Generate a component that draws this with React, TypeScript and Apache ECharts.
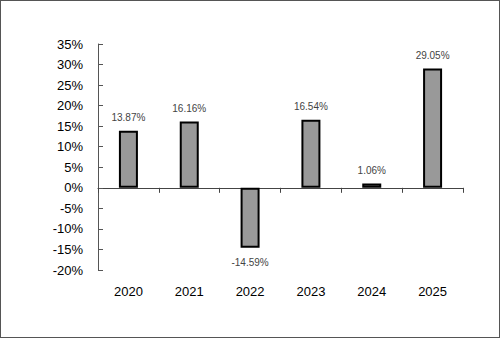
import React, { useEffect, useRef } from "react";
import * as echarts from "echarts";

const categories = ["2020", "2021", "2022", "2023", "2024", "2025"];
const returns = [13.87, 16.16, -14.59, 16.54, 1.06, 29.05];
const yMin = -20;
const yMax = 35;
const yStep = 5;

export default function App() {
  const ref = useRef<HTMLDivElement>(null);
  useEffect(() => {
    if (!ref.current) return;
    const chart = echarts.init(ref.current, undefined, { renderer: "svg" });
    const font = "'Liberation Sans', Arial, sans-serif";
    chart.setOption({
      animation: false,
      grid: { left: 97, right: 36, top: 43, bottom: 67 },
      xAxis: [
        {
          type: "category",
          data: categories,
          position: "bottom",
          axisLine: { show: false, onZero: false },
          axisTick: { show: false },
          axisLabel: { color: "#000", fontSize: 13, fontFamily: font, margin: 15 },
        },
        {
          type: "category",
          data: categories,
          position: "top",
          axisLine: { show: true, onZero: true, lineStyle: { color: "#444", width: 1 } },
          axisTick: { show: true, inside: true, length: 5, lineStyle: { color: "#444" } },
          axisLabel: { show: false },
        },
      ],
      yAxis: {
        type: "value",
        min: yMin,
        max: yMax,
        interval: yStep,
        splitLine: { show: false },
        axisLine: { show: true, lineStyle: { color: "#555", width: 1 } },
        axisTick: { show: true, inside: true, length: 5, lineStyle: { color: "#555" } },
        axisLabel: {
          color: "#000",
          fontSize: 13,
          fontFamily: font,
          margin: 15,
          formatter: "{value}%",
        },
      },
      series: [
        {
          type: "bar",
          xAxisIndex: 0,
          barWidth: 19,
          data: returns.map((v) => ({
            value: v,
            label: {
              position: v < 0 ? "bottom" : "top",
              distance: v < 0 ? 10 : 8,
            },
          })),
          itemStyle: { color: "#999999", borderColor: "#000", borderWidth: 2 },
          label: {
            show: true,
            fontSize: 10,
            fontFamily: font,
            color: "#444",
            formatter: (p: any) => p.value.toFixed(2) + "%",
          },
        },
      ],
    });
    return () => chart.dispose();
  }, []);
  return (
    <div
      style={{
        position: "fixed",
        left: 0,
        top: 0,
        width: 500,
        height: 338,
        boxSizing: "border-box",
        border: "1px solid #555",
        background: "#fff",
      }}
    >
      <div ref={ref} style={{ width: 498, height: 336 }} />
    </div>
  );
}
